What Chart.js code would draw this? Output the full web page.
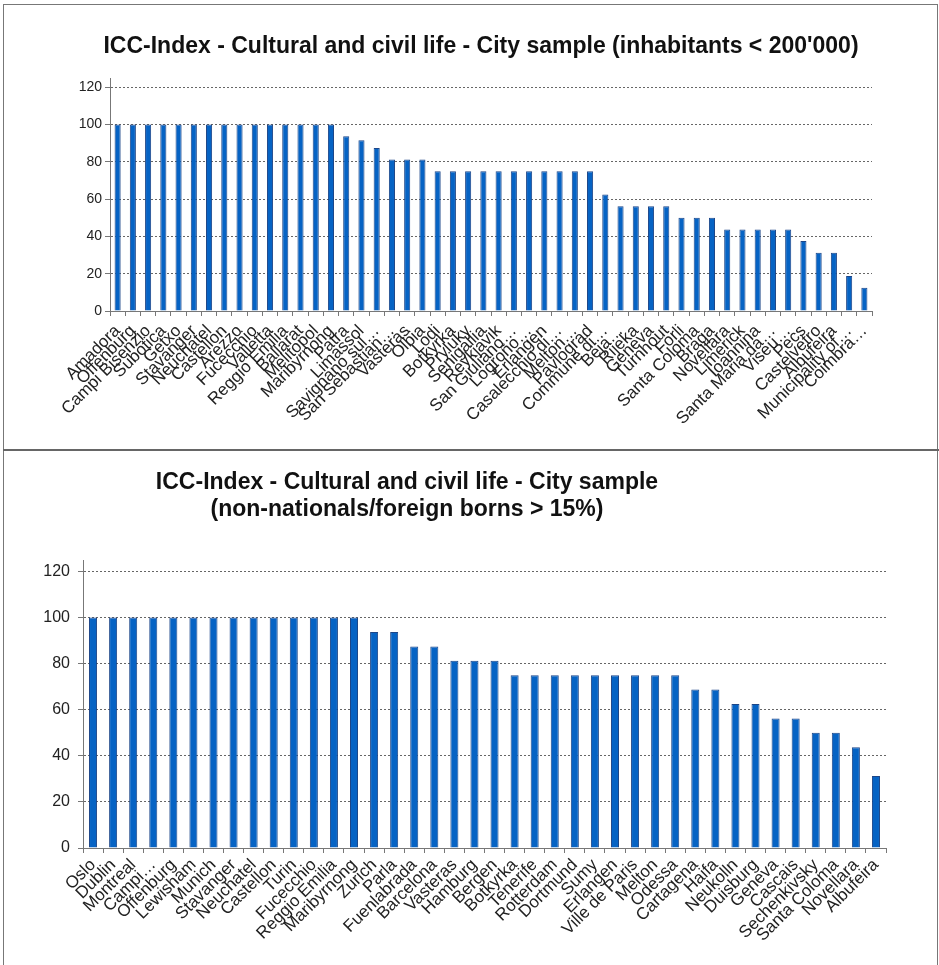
<!DOCTYPE html>
<html>
<head>
<meta charset="utf-8">
<script src="https://cdn.jsdelivr.net/npm/chart.js@4.4.1/dist/chart.umd.min.js"></script>
<style>
  body { margin: 0; background: #fff; width: 939px; height: 965px; overflow: hidden; position: relative; }
  .panel { position: absolute; left: 0; width: 939px; }
  #frame { position: absolute; left: 3px; top: 4px; width: 933px; height: 970px; border: 1px solid #777; }
  #divider { position: absolute; left: 3px; top: 449px; width: 936px; height: 2px; background: #666; }
</style>
</head>
<body>
<div id="frame"></div>
<div id="divider"></div>
<div class="panel" style="top:0;height:450px"><canvas id="smallCities" width="939" height="450"></canvas></div>
<div class="panel" style="top:450px;height:515px"><canvas id="foreignBorn" width="939" height="515"></canvas></div>
<script>
// ---- data: cities under 200'000 inhabitants ----
const smallCityLabels = [
  "Amadora", "Offenburg", "Campi Bisenzio", "Subotica", "Getxo", "Stavanger", "Neuchatel",
  "Castellon", "Arezzo", "Fucecchio", "Valletta", "Reggio Emilia", "Ballarat", "Melitopol",
  "Maribyrnong", "Patra", "Limassol", "Savignano sul…", "San Sebastian…", "Vasteras", "Olbia",
  "Lodi", "Botkyrka", "Pryluky", "Senigallia", "Reykjavik", "San Giuliano…", "Logroño…",
  "Erlangen", "Casalecchio di…", "Melton…", "Pavlograd", "Commune di…", "Beja…", "Rijeka",
  "Geneva", "Turnhout", "Forli", "Santa Coloma", "Braga", "Novellara", "Limerick", "Ioannina",
  "Santa Maria da…", "Viseu…", "Pecs", "Castelvetro", "Albufeira", "Municipality of…", "Coimbra…"
];
const smallCityValues = [
  100, 100, 100, 100, 100, 100, 100, 100, 100, 100, 100, 100, 100, 100, 100,
  93.75, 91.67, 87.5, 81.25, 81.25, 81.25,
  75, 75, 75, 75, 75, 75, 75, 75, 75, 75, 75,
  62.5, 56.25, 56.25, 56.25, 56.25, 50, 50, 50,
  43.75, 43.75, 43.75, 43.75, 43.75, 37.5, 31.25, 31.25, 18.75, 12.5
];

// ---- data: non-nationals / foreign borns > 15% ----
const foreignLabels = [
  "Oslo", "Dublin", "Montreal", "Campi…", "Offenburg", "Lewisham", "Munich", "Stavanger",
  "Neuchatel", "Castellon", "Turin", "Fucecchio", "Reggio Emilia", "Maribyrnong", "Zurich",
  "Parla", "Fuenlabrada", "Barcelona", "Vasteras", "Hamburg", "Bergen", "Botkyrka", "Tenerife",
  "Rotterdam", "Dortmund", "Sumy", "Erlangen", "Ville de Paris", "Melton", "Odessa",
  "Cartagena", "Haifa", "Neukolln", "Duisburg", "Geneva", "Cascais", "Sechenkivsky",
  "Santa Coloma", "Novellara", "Albufeira"
];
const foreignValues = [
  100, 100, 100, 100, 100, 100, 100, 100, 100, 100, 100, 100, 100, 100,
  93.75, 93.75, 87.5, 87.5, 81.25, 81.25, 81.25,
  75, 75, 75, 75, 75, 75, 75, 75, 75,
  68.75, 68.75, 62.5, 62.5, 56.25, 56.25, 50, 50, 43.75, 31.25
];

const yTicks = [0, 20, 40, 60, 80, 100, 120];
const titleSmall = ["ICC-Index - Cultural and civil life - City sample (inhabitants < 200'000)"];
const titleForeign = ["ICC-Index - Cultural and civil life - City sample", "(non-nationals/foreign borns > 15%)"];

const FONT = '"Liberation Sans", Arial, sans-serif';

// draws the bold heading at a fixed spot, like the office chart did
function headingPlugin(lines, cx, cy, lineGap) {
  return {
    id: "heading",
    afterDraw(chart) {
      const ctx = chart.ctx;
      ctx.save();
      ctx.font = "bold 23px " + FONT;
      ctx.fillStyle = "#111";
      ctx.textAlign = "center";
      ctx.textBaseline = "middle";
      lines.forEach((l, i) => ctx.fillText(l, cx, cy + i * lineGap));
      ctx.restore();
    }
  };
}

function makeChart(id, labels, values, cfg) {
  const ctx = document.getElementById(id).getContext("2d");
  return new Chart(ctx, {
    type: "bar",
    data: {
      labels: labels,
      datasets: [{
        data: values,
        backgroundColor: "#0663c4",
        borderColor: "#1d4688",
        borderWidth: 1,
        barPercentage: 0.4,
        categoryPercentage: 1.0
      }]
    },
    options: {
      responsive: false,
      animation: false,
      devicePixelRatio: 1,
      layout: { padding: { top: cfg.padTop, right: cfg.padRight, bottom: 0, left: 0 } },
      plugins: { legend: { display: false }, tooltip: { enabled: false }, title: { display: false } },
      scales: {
        x: {
          grid: { display: true, offset: true, drawOnChartArea: false, drawTicks: true, tickLength: 5, color: "#777" },
          border: { display: true, color: "#777", width: 1 },
          ticks: {
            autoSkip: false, minRotation: 45, maxRotation: 45, padding: cfg.xPad,
            color: "#222", font: { family: FONT, size: cfg.xFont }
          },
          afterFit: (s) => { s.height = cfg.xHeight; }
        },
        y: {
          min: 0, max: 125,
          afterBuildTicks: (s) => { s.ticks = yTicks.map(v => ({ value: v })); },
          grid: { color: "#666", tickBorderDash: [], tickColor: "#777", tickLength: 5 },
          border: { display: true, color: "#777", width: 1, dash: [2, 2] },
          ticks: { padding: cfg.yPad, color: "#222", font: { family: FONT, size: cfg.yFont } },
          afterFit: (s) => { s.width = cfg.yWidth; }
        }
      }
    },
    plugins: [headingPlugin(cfg.title, cfg.titleX, cfg.titleY, cfg.titleGap)]
  });
}

makeChart("smallCities", smallCityLabels, smallCityValues, {
  padTop: 78, padRight: 67, xHeight: 139, yWidth: 110, xFont: 17, yFont: 14, yPad: 3, xPad: 5,
  title: titleSmall, titleX: 481, titleY: 47, titleGap: 0
});

makeChart("foreignBorn", foreignLabels, foreignValues, {
  padTop: 110, padRight: 53, xHeight: 117, yWidth: 83, xFont: 17, yFont: 16, yPad: 8, xPad: 2,
  title: titleForeign, titleX: 407, titleY: 33, titleGap: 27
});
</script>
</body>
</html>
